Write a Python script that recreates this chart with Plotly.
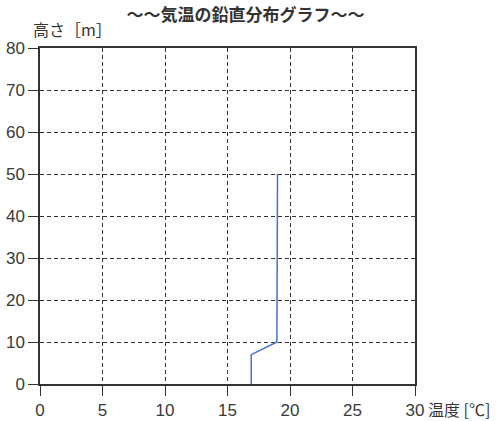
import plotly.graph_objects as go

# Vertical temperature profile
temperature = [16.9, 16.9, 18.95, 19.0]   # °C
height = [0, 7, 10, 50]                   # m

x_ticks = [0, 5, 10, 15, 20, 25, 30]
y_ticks = [0, 10, 20, 30, 40, 50, 60, 70, 80]

axis_color = "#333333"
jp_font = "Noto Sans CJK JP"
num_font = "Liberation Sans"

fig = go.Figure()
fig.add_trace(go.Scatter(
    x=temperature, y=height, mode="lines",
    line=dict(color="#4a6fd0", width=1.5),
    showlegend=False, hoverinfo="skip",
))

common = dict(
    showline=True, linecolor=axis_color, linewidth=1.5, mirror=True,
    ticks="outside", ticklen=10, tickcolor=axis_color, tickwidth=1.2,
    showgrid=True, gridcolor=axis_color, gridwidth=1, griddash="4px,3px",
    zeroline=False, automargin=False,
    tickfont=dict(family=num_font, size=17, color="#3a3a3a"),
)

fig.update_xaxes(range=[0, 30], tickvals=x_ticks, **common)
fig.update_yaxes(range=[0, 80], tickvals=y_ticks, ticklabelstandoff=0, **common)

fig.update_layout(
    width=504, height=421,
    margin=dict(l=40, r=89, t=48, b=37, autoexpand=False),
    paper_bgcolor="white", plot_bgcolor="white",
    title=dict(
        text="<b>～～気温の鉛直分布グラフ～～</b>",
        x=0.487, xanchor="center", y=0.965, yanchor="middle",
        font=dict(family=jp_font, size=17, color="#333333"),
    ),
    annotations=[
        dict(text="高さ［m］", xref="paper", yref="paper", x=-0.024, y=1.015,
             xanchor="left", yanchor="bottom", showarrow=False,
             font=dict(family=jp_font, size=16, color="#333333")),
        dict(text="温度 [℃]", xref="paper", yref="paper", x=1.03, y=-0.074,
             xanchor="left", yanchor="middle", showarrow=False,
             font=dict(family=jp_font, size=16, color="#333333")),
    ],
)

fig.write_html("out.html")
